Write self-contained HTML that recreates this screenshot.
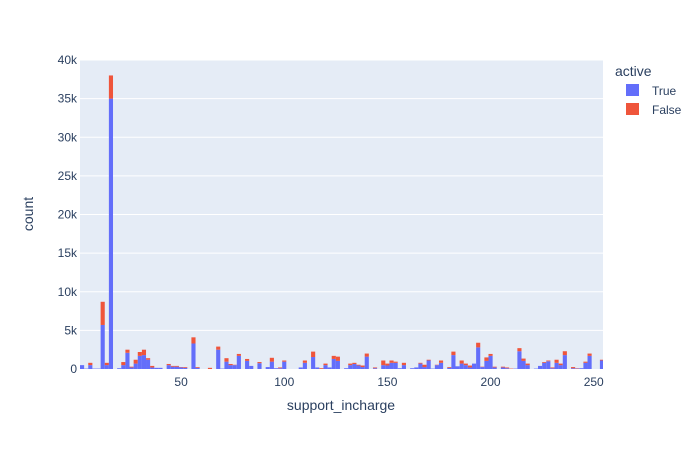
<!DOCTYPE html>
<html><head><meta charset="utf-8"><style>
body{margin:0;background:#fff}
svg{font-family:"Liberation Sans",sans-serif;display:block}
</style></head><body>
<svg id="chart" width="700" height="450" xmlns="http://www.w3.org/2000/svg">
<rect x="80" y="60" width="523" height="309" fill="#e5ecf6"/>
<g id="grid"></g>
<g id="bars"></g>
<g id="ticks"></g>
<text x="341" y="410" text-anchor="middle" font-size="14" fill="#2a3f5f">support_incharge</text>
<text transform="translate(33,214) rotate(-90)" text-anchor="middle" font-size="14" fill="#2a3f5f">count</text>
<g>
<text x="615" y="76" font-size="14" fill="#2a3f5f">active</text>
<g><rect x="626" y="84" width="13" height="12" fill="#636efa"/><text x="652" y="95" font-size="12" fill="#2a3f5f">True</text></g>
<g><rect x="626" y="103" width="13" height="12" fill="#ef553b"/><text x="652" y="114" font-size="12" fill="#2a3f5f">False</text></g>
</g>
</svg>
<script>
const binStart = 1;
const binWidth = 2;
const trueCounts = [0.5,0.05,0.5,0.05,0.05,5.7,0.5,35,0,0.1,0.5,2.1,0.2,0.7,1.7,1.8,1.2,0.2,0.15,0.15,0,0.5,0.3,0.3,0.2,0.15,0,3.3,0.15,0,0,0,0,2.5,0.05,0.95,0.5,0.5,1.7,0,1.05,0.4,
0,0.75,0,0.25,0.95,0.1,0.1,0.95,0,0,0,0.2,0.8,0,1.55,0.2,0,0.5,0.2,1.3,1.05,0,0.1,0.5,0.65,0.45,0.25,1.6,0,0.1,0,0.5,0.45,0.8,0.8,0.1,0.5,0,0.1,0.2,0.7,0.25,1.1,
0.05,0.5,0.8,0,0.15,1.8,0.35,0.7,0.5,0.2,0.7,2.8,0.25,1.05,1.7,0.2,0,0.2,0.1,0,0.05,2.3,1.05,0.5,0,0.05,0.4,0.8,1.0,0.1,0.8,0.5,1.8,0,0.1,0.05,0.1,0.8,1.7,0,0,1.1];
const falseCounts = [0,0,0.3,0,0,3.0,0.3,3.0,0,0,0.4,0.4,0.1,0.5,0.5,0.7,0.2,0.2,0,0,0,0.15,0.1,0.1,0.05,0.1,0,0.8,0.1,0,0,0.15,0,0.4,0,0.45,0.15,0.05,0.25,0,0.25,0,
0,0.15,0,0,0.5,0,0.1,0.15,0,0,0,0,0.3,0,0.7,0,0.1,0.2,0,0.4,0.55,0,0,0.2,0.15,0.1,0.2,0.4,0,0.1,0,0.6,0.25,0.3,0.15,0,0.3,0,0,0,0.1,0.3,0.1,
0,0.05,0.3,0,0.1,0.45,0,0.4,0.2,0.25,0,0.6,0.05,0.45,0.25,0.1,0,0.1,0.1,0.05,0,0.4,0.3,0.2,0,0,0,0.1,0.1,0.1,0.4,0.2,0.5,0,0.15,0.05,0,0.15,0.3,0,0,0.1];
const yTicks = [0,5,10,15,20,25,30,35,40];
const yTickLabels = ["0","5k","10k","15k","20k","25k","30k","35k","40k"];
const xTicks = [50,100,150,200,250];
const xTickLabels = ["50","100","150","200","250"];

const NS="http://www.w3.org/2000/svg";
const X0=80,X1=603,Y0=369,Y1=60,XMIN=1,XMAX=254.5,YMAX=40;
function xs(v){return X0+(v-XMIN)/(XMAX-XMIN)*(X1-X0);}
function ys(v){return Y0-v/YMAX*(Y0-Y1);}
function mk(tag,attrs,parent){const e=document.createElementNS(NS,tag);for(const k in attrs)e.setAttribute(k,attrs[k]);parent.appendChild(e);return e;}
const grid=document.getElementById('grid'),bars=document.getElementById('bars'),ticks=document.getElementById('ticks');
yTicks.forEach((t,i)=>{
  if(t>0){const l=mk('line',{x1:X0,x2:X1,y1:ys(t),y2:ys(t),stroke:'#fff','stroke-width':1},grid);
  
  }
  const tx=mk('text',{x:X0-3,y:ys(t)+4,'text-anchor':'end','font-size':12,fill:'#2a3f5f'},ticks);
  tx.textContent=yTickLabels[i];
  
  
});
xTicks.forEach((t,i)=>{
  const tx=mk('text',{x:xs(t),y:Y0+17,'text-anchor':'middle','font-size':12,fill:'#2a3f5f'},ticks);
  tx.textContent=xTickLabels[i];
  
  
});
const clip=mk('clipPath',{id:'pc'},document.getElementById('chart'));
mk('rect',{x:X0,y:Y1,width:X1-X0,height:Y0-Y1},clip);
bars.setAttribute('clip-path','url(#pc)');
trueCounts.forEach((tv,i)=>{
  const fv=falseCounts[i];
  const a=xs(binStart+i*binWidth),b=xs(binStart+(i+1)*binWidth);
  if(tv>0){const r=mk('rect',{x:a,y:ys(tv),width:b-a,height:ys(0)-ys(tv),fill:'#636efa'},bars);
  
  }
  if(fv>0){const r=mk('rect',{x:a,y:ys(tv+fv),width:b-a,height:ys(tv)-ys(tv+fv),fill:'#ef553b'},bars);
  
  }
});
</script>
</body></html>
